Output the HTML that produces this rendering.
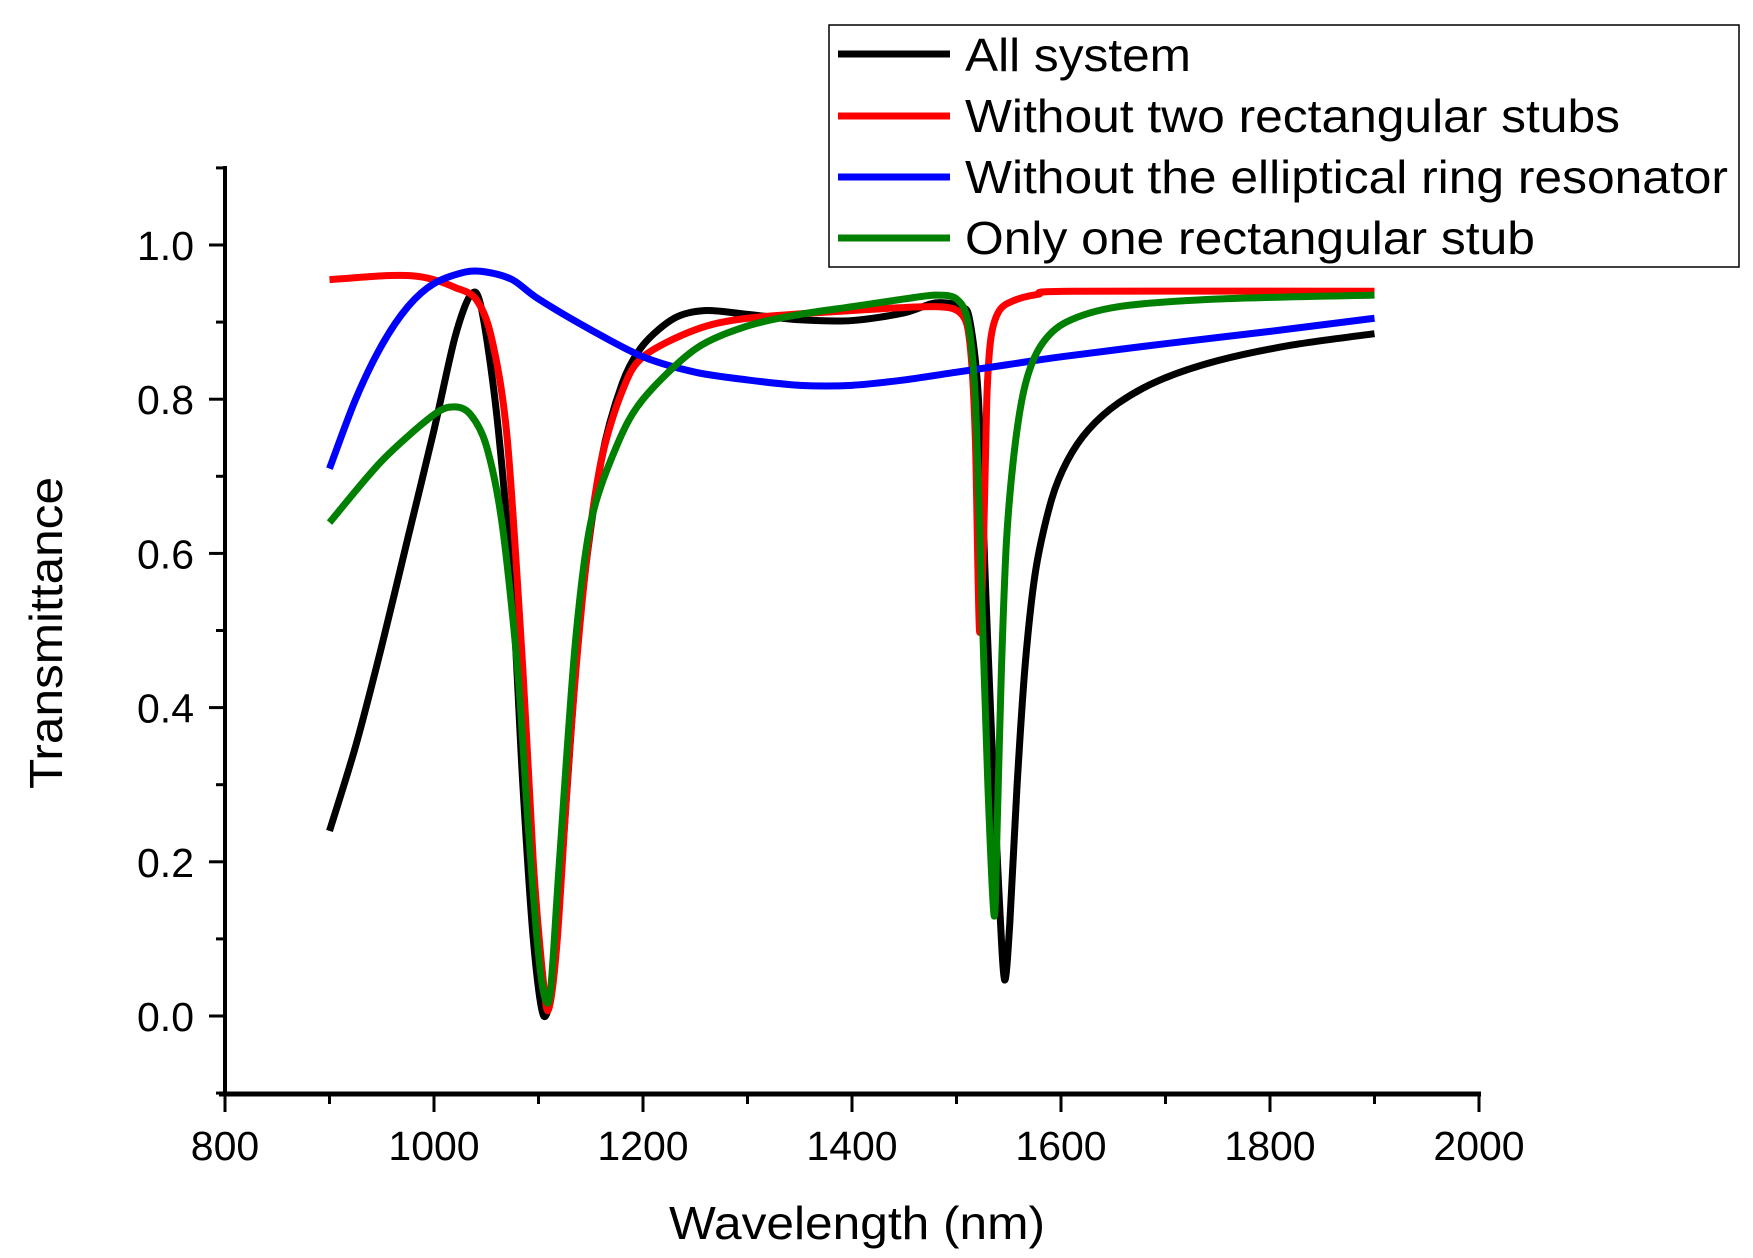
<!DOCTYPE html>
<html><head><meta charset="utf-8"><style>
html,body{margin:0;padding:0;background:#fff}
svg{display:block}
text{font-family:"Liberation Sans",Arial,sans-serif;fill:#000}
</style></head><body>
<svg id="chart" width="1753" height="1258" viewBox="0 0 1753 1258" xmlns="http://www.w3.org/2000/svg">
<g id="axes"></g>
<g id="series"></g>
<g id="legend">
<rect x="829" y="25" width="910" height="242" fill="#fff" stroke="#000" stroke-width="1.5"/>
<g><line x1="838" y1="54" x2="950" y2="54" stroke="#000" stroke-width="7"/><text x="965" y="71" font-size="46" textLength="226" lengthAdjust="spacingAndGlyphs">All system</text></g>
<g><line x1="838" y1="116" x2="950" y2="116" stroke="#ff0000" stroke-width="7"/><text x="965" y="132" font-size="46" textLength="655" lengthAdjust="spacingAndGlyphs">Without two rectangular stubs</text></g>
<g><line x1="838" y1="177" x2="950" y2="177" stroke="#0000ff" stroke-width="7"/><text x="965" y="193" font-size="46" textLength="763" lengthAdjust="spacingAndGlyphs">Without the elliptical ring resonator</text></g>
<g><line x1="838" y1="238" x2="950" y2="238" stroke="#008000" stroke-width="7"/><text x="965" y="254" font-size="46" textLength="570" lengthAdjust="spacingAndGlyphs">Only one rectangular stub</text></g>
</g>
<text x="857" y="1239" font-size="46" text-anchor="middle" textLength="376" lengthAdjust="spacingAndGlyphs">Wavelength (nm)</text>
<text transform="translate(62,633) rotate(-90)" font-size="46" text-anchor="middle" textLength="312" lengthAdjust="spacingAndGlyphs">Transmittance</text>
</svg>
<script>
const xTicks=[800,1000,1200,1400,1600,1800,2000];
const yTicks=[0.0,0.2,0.4,0.6,0.8,1.0];
const allX=[900,925,950,975,1000,1020,1035,1045,1060,1075,1085,1095,1105,1115,1125,1140,1160,1180,1200,1230,1260,1300,1350,1400,1450,1480,1505,1513,1521,1528,1534,1541,1546,1551,1558,1566,1576,1591,1606,1626,1655,1695,1750,1820,1900];
const allY=[.24,.35,.48,.62,.76,.88,.935,.92,.78,.55,.30,.10,.00,.06,.25,.52,.72,.82,.87,.905,.915,.91,.903,.902,.912,.925,.92,.9,.80,.55,.35,.15,.047,.12,.30,.46,.58,.67,.72,.76,.795,.825,.85,.87,.885];
const redX=[900,950,980,1000,1020,1040,1055,1070,1085,1095,1105,1110,1118,1130,1145,1160,1180,1200,1250,1300,1400,1480,1505,1513,1518,1522,1526,1529,1533,1541,1555,1578,1610,1900];
const redY=[.955,.96,.96,.955,.945,.93,.88,.75,.45,.20,.04,.01,.10,.35,.58,.72,.81,.855,.89,.905,.915,.92,.91,.87,.75,.50,.62,.80,.88,.915,.928,.936,.94,.94];
const blueX=[900,925,950,975,1000,1030,1050,1075,1100,1150,1200,1250,1300,1350,1400,1450,1500,1550,1600,1700,1800,1900];
const blueY=[.71,.80,.87,.92,.95,.965,.965,.955,.93,.89,.855,.835,.825,.818,.818,.825,.835,.845,.855,.872,.888,.905];
const greenX=[900,950,1000,1020,1035,1050,1065,1080,1090,1100,1107,1112,1120,1135,1150,1175,1200,1250,1300,1350,1400,1450,1480,1500,1511,1518,1524,1530,1536,1539,1543,1548,1556,1566,1581,1605,1655,1750,1900];
const greenY=[.64,.72,.78,.79,.78,.74,.64,.45,.25,.08,.02,.04,.20,.48,.64,.74,.80,.865,.895,.91,.92,.93,.935,.93,.90,.80,.55,.30,.13,.25,.45,.62,.74,.82,.87,.90,.92,.93,.935];

const NS='http://www.w3.org/2000/svg';
const X0=225,X1=1479,Y0=1016,Y1=245;
function sx(v){return X0+(v-800)*(X1-X0)/1200;}
function sy(v){return Y0-v*(Y0-Y1);}
function mk(tag,attrs,parent){const e=document.createElementNS(NS,tag);for(const k in attrs)e.setAttribute(k,attrs[k]);parent.appendChild(e);return e;}
const axes=document.getElementById('axes');
let e;
e=mk('line',{x1:X0,y1:166,x2:X0,y2:1096,stroke:'#000','stroke-width':4},axes);


e=mk('line',{x1:X0-6,y1:1094,x2:X1+2,y2:1094,stroke:'#000','stroke-width':5},axes);


for(let v=800;v<=2000;v+=100){
  const major=(v%200===0);
  e=mk('line',{x1:sx(v),y1:1094,x2:sx(v),y2:1094+(major?18:10),stroke:'#000','stroke-width':3},axes);
  
  
}
xTicks.forEach(v=>{
  e=mk('text',{x:sx(v),y:1160,'font-size':41,'text-anchor':'middle'},axes);
  e.textContent=String(v);
  
  
});
for(let i=-1;i<=12;i++){
  const v=i/10;
  if(sy(v)<166) continue;
  const major=(i%2===0)&&i>=0;
  e=mk('line',{x1:X0-(major?16:9),y1:sy(v),x2:X0,y2:sy(v),stroke:'#000','stroke-width':3},axes);
  
  
}
yTicks.forEach(v=>{
  e=mk('text',{x:194,y:sy(v)+15,'font-size':41,'text-anchor':'end'},axes);
  e.textContent=v.toFixed(1);
  
  
});
function path(xs,ys){
  const p=xs.map((x,i)=>[sx(x),sy(ys[i])]);
  let d='M'+p[0][0]+','+p[0][1];
  for(let i=0;i<p.length-1;i++){
    const a=p[Math.max(0,i-1)],b=p[i],c=p[i+1],f=p[Math.min(p.length-1,i+2)];
    const t=0.15;
    d+=' C'+(b[0]+(c[0]-a[0])*t)+','+(b[1]+(c[1]-a[1])*t)+' '+(c[0]-(f[0]-b[0])*t)+','+(c[1]-(f[1]-b[1])*t)+' '+c[0]+','+c[1];
  }
  return d;
}
const ser=document.getElementById('series');
e=mk('path',{d:path(allX,allY),fill:'none',stroke:'#000','stroke-width':7,'stroke-linejoin':'round'},ser);


e=mk('path',{d:path(redX,redY),fill:'none',stroke:'#ff0000','stroke-width':7,'stroke-linejoin':'round'},ser);


e=mk('path',{d:path(blueX,blueY),fill:'none',stroke:'#0000ff','stroke-width':7,'stroke-linejoin':'round'},ser);


e=mk('path',{d:path(greenX,greenY),fill:'none',stroke:'#008000','stroke-width':7,'stroke-linejoin':'round'},ser);


</script>
</body></html>
